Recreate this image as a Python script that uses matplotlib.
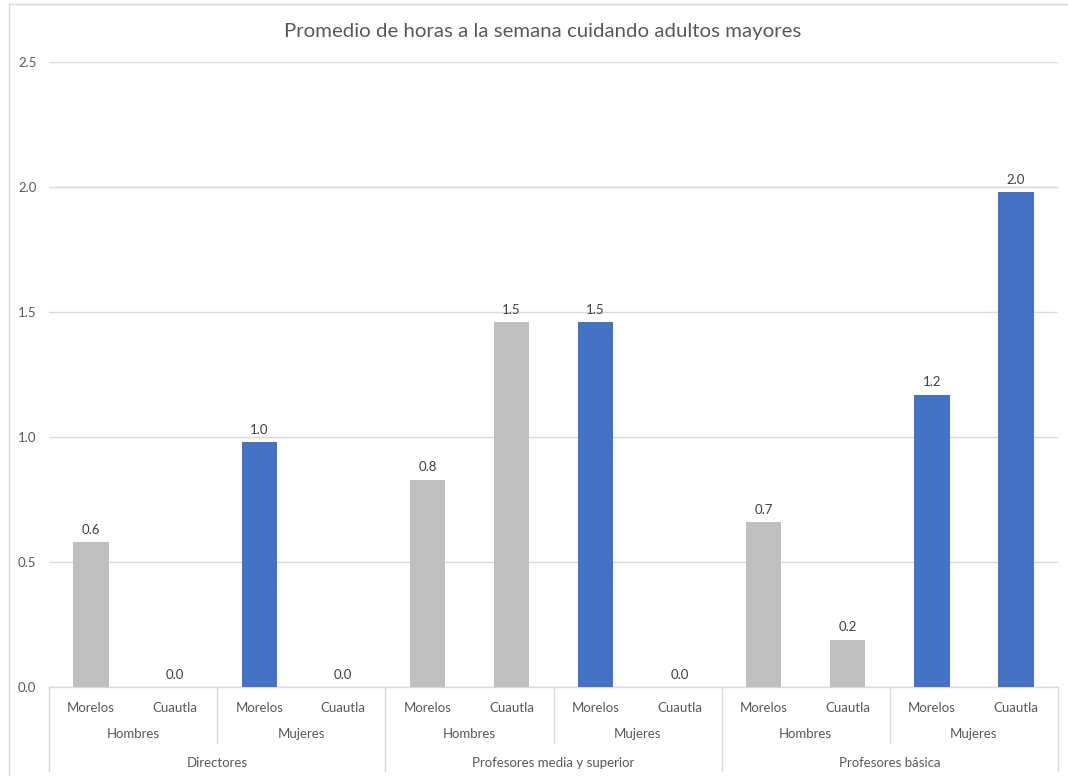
import matplotlib
matplotlib.use("Agg")
import matplotlib.pyplot as plt
from matplotlib.transforms import blended_transform_factory
from matplotlib.lines import Line2D

plt.rcParams['font.family'] = ['Lato', 'DejaVu Sans']

# Data
puestos = ["Directores", "Profesores media y superior", "Profesores básica"]
sexos = ["Hombres", "Mujeres"]
sedes = ["Morelos", "Cuautla"]
horas = [0.58, 0.0, 0.98, 0.0,
         0.83, 1.46, 1.46, 0.0,
         0.66, 0.19, 1.17, 1.98]
color_sexo = {"Hombres": "#BFBFBF", "Mujeres": "#4472C4"}

W, H = 1068, 776
fig = plt.figure(figsize=(W / 100, H / 100), dpi=100)
ax = fig.add_axes([49 / W, 1 - 687 / H, (1058 - 49) / W, (687 - 62) / H])

text_col = "#595959"
grid_col = "#D9D9D9"
fs = 9.5

# Bar colours follow the sex of each category
colores = []
for p in puestos:
    for s in sexos:
        for _ in sedes:
            colores.append(color_sexo[s])

x = list(range(len(horas)))
bars = ax.bar(x, horas, width=0.42, color=colores, zorder=3)
for xi, v in zip(x, horas):
    ax.annotate(f"{v:.1f}", (xi, v), xytext=(0, 4.5), textcoords="offset points",
                ha="center", va="bottom", fontsize=fs, color="#404040")

ax.set_xlim(-0.5, len(horas) - 0.5)
ax.set_ylim(0, 2.5)
ticks = [0, 0.5, 1.0, 1.5, 2.0, 2.5]
ax.set_yticks(ticks)
ax.set_yticklabels([f"{t:.1f}" for t in ticks])
ax.tick_params(axis="y", length=0, pad=9, labelsize=fs, labelcolor=text_col)
ax.set_xticks([])
ax.grid(axis="y", color=grid_col, linewidth=1, zorder=0)
for side in ["left", "right", "top"]:
    ax.spines[side].set_visible(False)
ax.spines["bottom"].set_color(grid_col)
ax.spines["bottom"].set_linewidth(1)

# Title centred on the chart area
fig.text(543 / W, 1 - 32 / H, "Promedio de horas a la semana cuidando adultos mayores",
         ha="center", va="center", fontsize=14.7, color=text_col)

# Multi-level category axis
tr = blended_transform_factory(ax.transData, fig.transFigure)
y_axis = 1 - 687 / H
y_l1 = 1 - 708 / H
y_l2 = 1 - 734 / H
y_l3 = 1 - 763 / H
y_sep1 = 1 - 743 / H
y_sep2 = 1 - 771 / H

i = 0
for gi, p in enumerate(puestos):
    start = i
    for si, s in enumerate(sexos):
        s_start = i
        for sd in sedes:
            fig.text(i, y_l1, sd, transform=tr, ha="center", va="center",
                     fontsize=fs, color=text_col)
            i += 1
        fig.text((s_start + i - 1) / 2, y_l2, s, transform=tr, ha="center",
                 va="center", fontsize=fs, color=text_col)
        if si < len(sexos) - 1:
            fig.add_artist(Line2D([i - 0.5, i - 0.5], [y_axis, y_sep1],
                                  transform=tr, color=grid_col, linewidth=1))
    fig.text((start + i - 1) / 2, y_l3, p, transform=tr, ha="center",
             va="center", fontsize=fs, color=text_col)
    fig.add_artist(Line2D([start - 0.5, start - 0.5], [y_axis, y_sep2],
                          transform=tr, color=grid_col, linewidth=1))
fig.add_artist(Line2D([i - 0.5, i - 0.5], [y_axis, y_sep2],
                      transform=tr, color=grid_col, linewidth=1))

# Chart area border
fig.add_artist(Line2D([9 / W, 9 / W], [0, 1 - 4 / H], transform=fig.transFigure,
                      color=grid_col, linewidth=1))
fig.add_artist(Line2D([9 / W, 1], [1 - 4 / H, 1 - 4 / H], transform=fig.transFigure,
                      color=grid_col, linewidth=1))

fig.savefig("out.png", dpi=100)
